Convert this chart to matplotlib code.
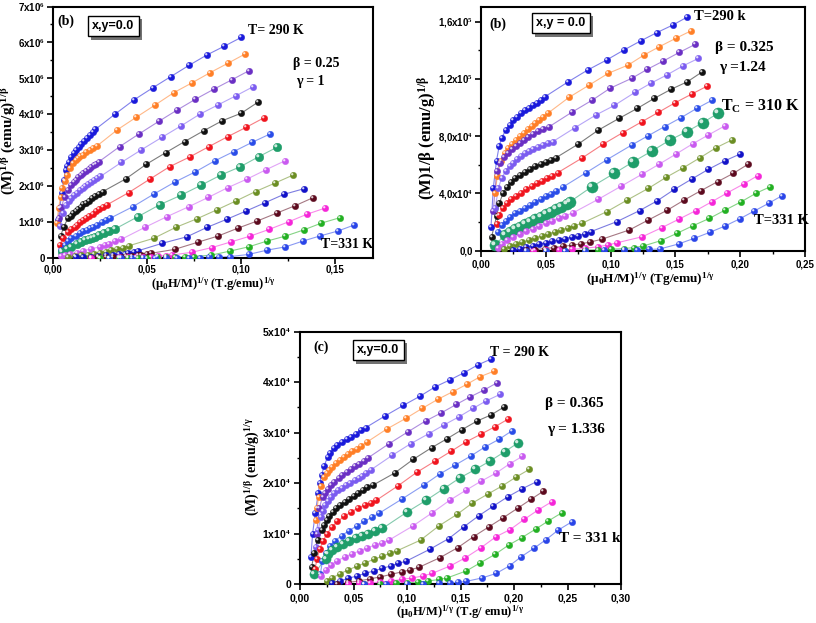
import matplotlib
matplotlib.use('Agg')
import matplotlib.pyplot as plt
import matplotlib.patheffects as pe
from matplotlib.markers import MarkerStyle
from matplotlib.transforms import Affine2D
from matplotlib.ticker import MultipleLocator, FuncFormatter

plt.rcParams['mathtext.fontset'] = 'custom'
plt.rcParams['mathtext.rm'] = 'Liberation Serif:bold'
plt.rcParams['mathtext.it'] = 'Liberation Serif:bold'
plt.rcParams['mathtext.bf'] = 'Liberation Serif:bold'
plt.rcParams['mathtext.default'] = 'rm'

# curve colours, T = 290 K (top) ... 331 K (bottom)
colors = ['#1a1adb', '#ff7f27', '#6a2fc4', '#7b5cf0', '#111111', '#f0141e', '#2a4de8',
          '#1f9e6a', '#c95af0', '#6b8e23', '#1212c8', '#5c0a1e', '#f526d8', '#22b022', '#2a45e8']

# ---- panel (b), beta=0.25, gamma=1 ; y in units of 1e6
p1_x = [
    [0.0027, 0.0036, 0.0046, 0.0057, 0.0067, 0.0076, 0.0085, 0.0097, 0.0110, 0.0124, 0.0138, 0.0151, 0.0165, 0.0180, 0.0195, 0.0210, 0.0225, 0.0331, 0.0430, 0.0531, 0.0626, 0.0722, 0.0817, 0.0908, 0.1000],
    [0.0020, 0.0030, 0.0040, 0.0050, 0.0062, 0.0075, 0.0089, 0.0106, 0.0120, 0.0133, 0.0146, 0.0159, 0.0177, 0.0195, 0.0213, 0.0234, 0.0342, 0.0443, 0.0543, 0.0641, 0.0740, 0.0835, 0.0929, 0.1021],
    [0.0030, 0.0045, 0.0062, 0.0080, 0.0098, 0.0110, 0.0122, 0.0135, 0.0148, 0.0162, 0.0176, 0.0190, 0.0204, 0.0218, 0.0231, 0.0244, 0.0354, 0.0456, 0.0561, 0.0660, 0.0757, 0.0855, 0.0950, 0.1040],
    [0.0035, 0.0053, 0.0071, 0.0085, 0.0098, 0.0112, 0.0127, 0.0142, 0.0157, 0.0172, 0.0188, 0.0204, 0.0220, 0.0236, 0.0252, 0.0363, 0.0469, 0.0579, 0.0681, 0.0779, 0.0876, 0.0970, 0.1064],
    [0.0040, 0.0057, 0.0080, 0.0093, 0.0106, 0.0120, 0.0134, 0.0148, 0.0162, 0.0177, 0.0192, 0.0208, 0.0224, 0.0244, 0.0265, 0.0386, 0.0496, 0.0598, 0.0699, 0.0800, 0.0899, 0.1000, 0.1090],
    [0.0035, 0.0053, 0.0080, 0.0098, 0.0115, 0.0130, 0.0145, 0.0161, 0.0177, 0.0193, 0.0210, 0.0227, 0.0245, 0.0266, 0.0287, 0.0402, 0.0513, 0.0619, 0.0729, 0.0828, 0.0929, 0.1027, 0.1120],
    [0.0040, 0.0062, 0.0080, 0.0098, 0.0120, 0.0142, 0.0161, 0.0180, 0.0196, 0.0212, 0.0235, 0.0260, 0.0282, 0.0305, 0.0425, 0.0536, 0.0646, 0.0757, 0.0858, 0.0959, 0.1058, 0.1152],
    [0.0050, 0.0075, 0.0098, 0.0125, 0.0151, 0.0171, 0.0190, 0.0206, 0.0221, 0.0245, 0.0270, 0.0298, 0.0327, 0.0451, 0.0566, 0.0681, 0.0788, 0.0892, 0.0995, 0.1093, 0.1189],
    [0.0040, 0.0065, 0.0089, 0.0125, 0.0159, 0.0200, 0.0248, 0.0275, 0.0300, 0.0330, 0.0363, 0.0487, 0.0605, 0.0722, 0.0826, 0.0929, 0.1032, 0.1129, 0.1230],
    [0.0080, 0.0115, 0.0150, 0.0185, 0.0220, 0.0250, 0.0280, 0.0310, 0.0340, 0.0370, 0.0403, 0.0536, 0.0651, 0.0764, 0.0870, 0.0973, 0.1076, 0.1177, 0.1276],
    [0.012, 0.016, 0.020, 0.024, 0.028, 0.032, 0.035, 0.038, 0.040, 0.043, 0.0451, 0.0581, 0.0711, 0.0817, 0.0924, 0.1027, 0.1127, 0.1226, 0.1334],
    [0.020, 0.024, 0.028, 0.032, 0.036, 0.039, 0.042, 0.045, 0.047, 0.050, 0.052, 0.0646, 0.0770, 0.0876, 0.0982, 0.1085, 0.1189, 0.1288, 0.1382],
    [0.020, 0.025, 0.030, 0.035, 0.040, 0.044, 0.048, 0.052, 0.056, 0.060, 0.063, 0.0738, 0.0844, 0.0947, 0.1048, 0.1150, 0.1253, 0.1350, 0.1446],
    [0.025, 0.030, 0.035, 0.040, 0.045, 0.050, 0.055, 0.060, 0.065, 0.070, 0.075, 0.0841, 0.0938, 0.1039, 0.1136, 0.1235, 0.1331, 0.1425, 0.1523],
    [0.030, 0.036, 0.042, 0.048, 0.054, 0.060, 0.066, 0.072, 0.078, 0.083, 0.088, 0.0942, 0.1040, 0.1138, 0.1235, 0.1327, 0.1416, 0.1513, 0.1601],
]
p1_y = [
    [1.06, 1.38, 1.80, 2.17, 2.45, 2.57, 2.68, 2.80, 2.92, 3.01, 3.10, 3.18, 3.27, 3.35, 3.43, 3.50, 3.58, 4.01, 4.40, 4.74, 5.05, 5.36, 5.65, 5.89, 6.14],
    [0.97, 1.40, 1.70, 1.95, 2.15, 2.31, 2.50, 2.64, 2.72, 2.78, 2.83, 2.87, 2.94, 3.01, 3.07, 3.12, 3.57, 3.92, 4.26, 4.60, 4.88, 5.16, 5.42, 5.68],
    [1.10, 1.43, 1.71, 1.89, 2.03, 2.11, 2.18, 2.25, 2.31, 2.37, 2.43, 2.48, 2.53, 2.58, 2.63, 2.68, 3.10, 3.45, 3.80, 4.12, 4.42, 4.70, 4.96, 5.21],
    [0.90, 1.25, 1.48, 1.58, 1.66, 1.74, 1.82, 1.89, 1.95, 2.01, 2.07, 2.12, 2.17, 2.22, 2.27, 2.66, 3.01, 3.36, 3.68, 4.00, 4.26, 4.51, 4.77],
    [0.60, 0.87, 1.11, 1.18, 1.25, 1.31, 1.37, 1.43, 1.49, 1.54, 1.60, 1.66, 1.72, 1.79, 1.85, 2.20, 2.61, 2.93, 3.24, 3.54, 3.82, 4.03, 4.34],
    [0.36, 0.55, 0.73, 0.81, 0.87, 0.93, 0.99, 1.05, 1.11, 1.17, 1.23, 1.30, 1.36, 1.42, 1.48, 1.82, 2.19, 2.54, 2.82, 3.10, 3.38, 3.64, 3.90],
    [0.22, 0.36, 0.46, 0.55, 0.62, 0.69, 0.74, 0.79, 0.83, 0.87, 0.93, 0.99, 1.05, 1.11, 1.43, 1.78, 2.11, 2.40, 2.70, 2.96, 3.22, 3.45],
    [0.18, 0.25, 0.31, 0.38, 0.45, 0.49, 0.53, 0.56, 0.59, 0.64, 0.70, 0.75, 0.80, 1.15, 1.48, 1.75, 2.03, 2.31, 2.54, 2.82, 3.08],
    [0.06, 0.08, 0.11, 0.15, 0.20, 0.25, 0.31, 0.36, 0.40, 0.46, 0.52, 0.85, 1.15, 1.43, 1.69, 1.96, 2.20, 2.45, 2.70],
    [0.03, 0.05, 0.07, 0.09, 0.12, 0.15, 0.18, 0.21, 0.25, 0.29, 0.34, 0.55, 0.85, 1.09, 1.34, 1.59, 1.85, 2.08, 2.31],
    [0.02, 0.03, 0.04, 0.05, 0.07, 0.08, 0.10, 0.12, 0.14, 0.17, 0.20, 0.41, 0.59, 0.85, 1.08, 1.31, 1.54, 1.77, 1.93],
    [0.01, 0.015, 0.02, 0.03, 0.04, 0.05, 0.06, 0.075, 0.09, 0.11, 0.13, 0.24, 0.44, 0.61, 0.83, 1.03, 1.25, 1.46, 1.68],
    [0.005, 0.007, 0.01, 0.015, 0.02, 0.025, 0.03, 0.04, 0.05, 0.065, 0.08, 0.16, 0.29, 0.45, 0.61, 0.80, 1.01, 1.22, 1.39],
    [0.0, 0.003, 0.005, 0.007, 0.01, 0.012, 0.015, 0.02, 0.025, 0.03, 0.04, 0.08, 0.19, 0.31, 0.47, 0.61, 0.78, 0.97, 1.12],
    [0.0, 0.0, 0.0, 0.002, 0.004, 0.006, 0.008, 0.01, 0.013, 0.016, 0.02, 0.04, 0.10, 0.22, 0.31, 0.47, 0.61, 0.75, 0.92],
]

# ---- panel (b), beta=0.325, gamma=1.24 ; y in units of 1e4
p2_x = [
    [0.0077, 0.0095, 0.0120, 0.0140, 0.0160, 0.0190, 0.0220, 0.0250, 0.0280, 0.0310, 0.0340, 0.0370, 0.0400, 0.0430, 0.0460, 0.0494, 0.0674, 0.0824, 0.0970, 0.1104, 0.1236, 0.1357, 0.1480, 0.1588],
    [0.0108, 0.0126, 0.0154, 0.0185, 0.0210, 0.0240, 0.0270, 0.0300, 0.0330, 0.0360, 0.0390, 0.0420, 0.0450, 0.0480, 0.0515, 0.0680, 0.0836, 0.0983, 0.1137, 0.1259, 0.1377, 0.1503, 0.1622],
    [0.0095, 0.0121, 0.0147, 0.018, 0.021, 0.024, 0.027, 0.030, 0.033, 0.036, 0.040, 0.044, 0.048, 0.0527, 0.0700, 0.0860, 0.0996, 0.1164, 0.1284, 0.1408, 0.1531, 0.1653],
    [0.011, 0.0135, 0.016, 0.019, 0.022, 0.025, 0.028, 0.031, 0.034, 0.037, 0.040, 0.044, 0.048, 0.052, 0.0554, 0.0726, 0.0886, 0.1029, 0.1189, 0.1310, 0.1434, 0.1557, 0.1678],
    [0.0082, 0.012, 0.014, 0.017, 0.020, 0.023, 0.026, 0.030, 0.034, 0.038, 0.042, 0.046, 0.050, 0.054, 0.0579, 0.0747, 0.0906, 0.1066, 0.1207, 0.1338, 0.1467, 0.1593, 0.1709],
    [0.012, 0.014, 0.017, 0.020, 0.023, 0.027, 0.031, 0.035, 0.039, 0.043, 0.047, 0.051, 0.055, 0.0592, 0.0777, 0.0940, 0.1094, 0.1241, 0.1369, 0.1498, 0.1627, 0.1747],
    [0.013, 0.016, 0.019, 0.022, 0.026, 0.030, 0.034, 0.038, 0.042, 0.046, 0.050, 0.054, 0.058, 0.0636, 0.0811, 0.0970, 0.1164, 0.1287, 0.1416, 0.1542, 0.1666, 0.1786],
    [0.0108, 0.0185, 0.022, 0.026, 0.030, 0.034, 0.038, 0.042, 0.046, 0.050, 0.054, 0.058, 0.062, 0.066, 0.0687, 0.0855, 0.1029, 0.1176, 0.1323, 0.1459, 0.1588, 0.1712, 0.1828],
    [0.013, 0.016, 0.020, 0.025, 0.030, 0.035, 0.040, 0.045, 0.050, 0.055, 0.060, 0.065, 0.0713, 0.0906, 0.1080, 0.1246, 0.1377, 0.1506, 0.1632, 0.1755, 0.1879],
    [0.018, 0.022, 0.027, 0.032, 0.037, 0.042, 0.047, 0.052, 0.057, 0.062, 0.067, 0.072, 0.0778, 0.0971, 0.1130, 0.1292, 0.1429, 0.1562, 0.1691, 0.1815, 0.1936],
    [0.025, 0.030, 0.035, 0.040, 0.045, 0.050, 0.055, 0.060, 0.065, 0.070, 0.075, 0.080, 0.0847, 0.1048, 0.1223, 0.1357, 0.1493, 0.1627, 0.1755, 0.1879, 0.2000],
    [0.035, 0.042, 0.049, 0.056, 0.063, 0.070, 0.077, 0.084, 0.0932, 0.1145, 0.1292, 0.1439, 0.1568, 0.1696, 0.1825, 0.1948, 0.2064],
    [0.040, 0.050, 0.060, 0.070, 0.080, 0.090, 0.098, 0.1048, 0.1246, 0.1395, 0.1524, 0.1658, 0.1781, 0.1902, 0.2026, 0.2134],
    [0.050, 0.065, 0.080, 0.090, 0.100, 0.110, 0.118, 0.1253, 0.1387, 0.1511, 0.1632, 0.1763, 0.1884, 0.2008, 0.2121, 0.2232],
    [0.035, 0.050, 0.065, 0.080, 0.095, 0.110, 0.120, 0.130, 0.138, 0.1524, 0.1647, 0.1768, 0.1884, 0.1995, 0.2108, 0.2219, 0.2322],
]
p2_y = [
    [1.63, 4.40, 6.30, 7.30, 7.90, 8.40, 8.80, 9.10, 9.35, 9.60, 9.80, 10.00, 10.20, 10.35, 10.55, 10.76, 11.81, 12.63, 13.33, 14.03, 14.68, 15.24, 15.77, 16.31],
    [4.0, 5.2, 6.3, 6.8, 7.15, 7.45, 7.75, 8.0, 8.25, 8.5, 8.7, 8.9, 9.1, 9.35, 9.6, 10.72, 11.58, 12.40, 12.98, 13.68, 14.26, 14.84, 15.37],
    [2.8, 5.6, 6.1, 6.55, 6.85, 7.1, 7.35, 7.55, 7.75, 7.95, 8.15, 8.35, 8.5, 8.67, 9.67, 10.53, 11.35, 12.05, 12.68, 13.26, 13.86, 14.42],
    [3.0, 4.4, 5.1, 5.55, 5.9, 6.15, 6.4, 6.6, 6.8, 6.95, 7.1, 7.25, 7.4, 7.5, 7.62, 8.60, 9.48, 10.15, 11.07, 11.70, 12.28, 12.91, 13.44],
    [0.98, 2.4, 3.3, 4.0, 4.45, 4.8, 5.05, 5.3, 5.5, 5.7, 5.9, 6.05, 6.2, 6.35, 6.5, 7.43, 8.43, 9.25, 9.95, 10.65, 11.28, 11.81, 12.51],
    [1.9, 2.5, 3.0, 3.35, 3.6, 3.85, 4.05, 4.3, 4.5, 4.7, 4.9, 5.05, 5.25, 5.45, 6.46, 7.43, 8.25, 9.01, 9.67, 10.34, 10.95, 11.51],
    [1.3, 1.8, 2.1, 2.35, 2.6, 2.8, 3.0, 3.2, 3.4, 3.6, 3.8, 3.95, 4.15, 4.47, 5.45, 6.35, 7.39, 8.02, 8.67, 9.29, 9.95, 10.53],
    [0.40, 1.10, 1.30, 1.50, 1.68, 1.85, 2.00, 2.20, 2.35, 2.55, 2.70, 2.90, 3.05, 3.25, 3.42, 4.47, 5.41, 6.22, 6.99, 7.74, 8.32, 8.95, 9.60],
    [0.2, 0.5, 0.75, 0.95, 1.15, 1.35, 1.55, 1.75, 1.95, 2.1, 2.3, 2.45, 2.66, 3.6, 4.5, 5.36, 6.06, 6.76, 7.46, 8.09, 8.71],
    [0.1, 0.3, 0.45, 0.6, 0.75, 0.9, 1.05, 1.2, 1.3, 1.45, 1.6, 1.75, 1.91, 2.73, 3.55, 4.36, 5.13, 5.80, 6.50, 7.20, 7.74],
    [0.05, 0.15, 0.25, 0.35, 0.45, 0.55, 0.65, 0.75, 0.85, 0.95, 1.05, 1.2, 1.33, 2.03, 2.80, 3.47, 4.29, 5.01, 5.69, 6.27, 6.76],
    [0.02, 0.08, 0.15, 0.22, 0.3, 0.38, 0.48, 0.6, 0.8, 1.45, 2.15, 2.84, 3.54, 4.19, 4.82, 5.41, 6.06],
    [0.0, 0.02, 0.05, 0.10, 0.17, 0.27, 0.40, 0.55, 0.98, 1.61, 2.19, 2.80, 3.42, 4.05, 4.66, 5.24],
    [0.0, 0.01, 0.03, 0.06, 0.10, 0.15, 0.22, 0.33, 0.70, 1.21, 1.73, 2.26, 2.84, 3.42, 4.01, 4.47],
    [0.0, 0.0, 0.0, 0.01, 0.02, 0.04, 0.06, 0.09, 0.12, 0.47, 0.87, 1.29, 1.73, 2.22, 2.77, 3.31, 3.84],
]

# ---- panel (c), beta=0.365, gamma=1.336 ; y in units of 1e4
p3_x = [
    [0.0102, 0.0118, 0.0143, 0.0170, 0.0185, 0.0202, 0.0226, 0.0258, 0.0285, 0.0314, 0.0350, 0.0397, 0.0440, 0.0481, 0.0525, 0.0568, 0.0615, 0.0794, 0.0966, 0.1120, 0.1266, 0.1406, 0.1536, 0.1660, 0.1788],
    [0.0149, 0.0160, 0.0174, 0.0195, 0.0226, 0.0250, 0.0273, 0.0300, 0.0335, 0.0370, 0.0413, 0.0450, 0.0490, 0.0530, 0.0568, 0.0624, 0.0810, 0.0987, 0.1142, 0.1288, 0.1427, 0.1561, 0.1685, 0.1816],
    [0.0155, 0.0180, 0.0211, 0.0235, 0.0258, 0.0290, 0.0320, 0.0360, 0.0397, 0.0435, 0.0475, 0.0515, 0.0553, 0.0595, 0.0636, 0.0832, 0.1012, 0.1173, 0.1319, 0.1462, 0.1592, 0.1716, 0.1844],
    [0.0149, 0.0170, 0.0195, 0.0215, 0.0236, 0.0260, 0.0289, 0.0320, 0.0357, 0.0390, 0.0428, 0.0470, 0.0512, 0.0550, 0.0584, 0.0620, 0.0661, 0.0862, 0.1034, 0.1204, 0.1344, 0.1483, 0.1617, 0.1741, 0.1872],
    [0.0109, 0.0133, 0.0164, 0.0202, 0.0225, 0.0248, 0.0275, 0.0304, 0.0340, 0.0376, 0.0418, 0.0459, 0.0500, 0.0543, 0.0585, 0.0630, 0.0683, 0.0885, 0.1058, 0.1229, 0.1375, 0.1515, 0.1655, 0.1785, 0.1909],
    [0.0140, 0.0160, 0.0185, 0.0215, 0.0250, 0.0295, 0.0350, 0.0415, 0.0480, 0.0545, 0.0610, 0.0660, 0.0714, 0.0919, 0.1089, 0.1266, 0.1412, 0.1555, 0.1692, 0.1825, 0.1946],
    [0.019, 0.021, 0.024, 0.028, 0.033, 0.039, 0.046, 0.053, 0.060, 0.067, 0.0738, 0.0950, 0.1157, 0.1306, 0.1453, 0.1599, 0.1732, 0.1862, 0.1977],
    [0.013, 0.024, 0.026, 0.030, 0.035, 0.040, 0.046, 0.052, 0.058, 0.064, 0.070, 0.0770, 0.0996, 0.1180, 0.1344, 0.1499, 0.1639, 0.1778, 0.1912, 0.2033],
    [0.020, 0.024, 0.029, 0.035, 0.042, 0.049, 0.056, 0.063, 0.070, 0.077, 0.0832, 0.1055, 0.1235, 0.1400, 0.1552, 0.1695, 0.1834, 0.1958, 0.2079],
    [0.025, 0.030, 0.037, 0.045, 0.053, 0.061, 0.069, 0.077, 0.084, 0.0909, 0.1127, 0.1297, 0.1468, 0.1608, 0.1753, 0.1887, 0.2020, 0.2142],
    [0.030, 0.037, 0.045, 0.053, 0.061, 0.069, 0.077, 0.085, 0.092, 0.099, 0.1215, 0.1390, 0.1530, 0.1669, 0.1804, 0.1943, 0.2079, 0.2213],
    [0.035, 0.045, 0.055, 0.065, 0.075, 0.085, 0.095, 0.103, 0.1111, 0.1306, 0.1474, 0.1623, 0.1763, 0.1897, 0.2033, 0.2160, 0.2275],
    [0.045, 0.055, 0.065, 0.075, 0.085, 0.095, 0.105, 0.115, 0.1235, 0.1406, 0.1546, 0.1692, 0.1834, 0.1965, 0.2095, 0.2228, 0.2353],
    [0.060, 0.075, 0.090, 0.100, 0.110, 0.120, 0.130, 0.1375, 0.1555, 0.1685, 0.1825, 0.1949, 0.2074, 0.2204, 0.2321, 0.2446],
    [0.060, 0.080, 0.100, 0.115, 0.130, 0.140, 0.148, 0.155, 0.1701, 0.1834, 0.1958, 0.2067, 0.2188, 0.2300, 0.2414, 0.2539],
]
p3_y = [
    [0.54, 1.00, 1.40, 1.80, 2.00, 2.16, 2.34, 2.52, 2.60, 2.69, 2.76, 2.82, 2.87, 2.92, 2.98, 3.05, 3.10, 3.33, 3.54, 3.72, 3.91, 4.05, 4.19, 4.34, 4.46],
    [1.27, 1.50, 1.73, 1.95, 2.12, 2.20, 2.26, 2.32, 2.39, 2.45, 2.52, 2.58, 2.64, 2.68, 2.73, 2.81, 3.07, 3.28, 3.48, 3.66, 3.81, 3.96, 4.11, 4.22],
    [1.00, 1.50, 1.73, 1.81, 1.89, 1.96, 2.03, 2.10, 2.16, 2.22, 2.27, 2.33, 2.38, 2.44, 2.50, 2.78, 3.02, 3.23, 3.39, 3.56, 3.71, 3.84, 3.99],
    [0.73, 1.07, 1.33, 1.45, 1.56, 1.65, 1.73, 1.80, 1.86, 1.91, 1.96, 2.01, 2.06, 2.10, 2.14, 2.20, 2.26, 2.55, 2.78, 2.98, 3.15, 3.31, 3.48, 3.63, 3.76],
    [0.34, 0.61, 0.88, 1.07, 1.17, 1.27, 1.35, 1.43, 1.50, 1.56, 1.63, 1.69, 1.74, 1.80, 1.86, 1.92, 1.96, 2.20, 2.47, 2.70, 2.88, 3.06, 3.23, 3.35, 3.51],
    [0.30, 0.50, 0.70, 0.85, 0.99, 1.12, 1.24, 1.34, 1.43, 1.51, 1.57, 1.61, 1.66, 1.95, 2.21, 2.44, 2.63, 2.82, 2.97, 3.12, 3.27],
    [0.20, 0.45, 0.62, 0.75, 0.86, 0.96, 1.06, 1.15, 1.24, 1.32, 1.40, 1.68, 1.96, 2.18, 2.36, 2.54, 2.72, 2.87, 3.03],
    [0.20, 0.50, 0.60, 0.68, 0.74, 0.80, 0.86, 0.92, 0.96, 1.00, 1.05, 1.10, 1.42, 1.66, 1.89, 2.11, 2.27, 2.44, 2.62, 2.79],
    [0.15, 0.28, 0.38, 0.46, 0.54, 0.60, 0.66, 0.72, 0.77, 0.82, 0.87, 1.15, 1.41, 1.66, 1.86, 2.04, 2.20, 2.38, 2.53],
    [0.05, 0.12, 0.20, 0.28, 0.35, 0.42, 0.49, 0.55, 0.61, 0.66, 0.87, 1.15, 1.38, 1.60, 1.78, 1.94, 2.12, 2.27],
    [0.02, 0.06, 0.11, 0.16, 0.21, 0.26, 0.31, 0.36, 0.41, 0.45, 0.69, 0.90, 1.13, 1.35, 1.54, 1.73, 1.89, 2.03],
    [0.0, 0.03, 0.06, 0.10, 0.14, 0.19, 0.24, 0.28, 0.33, 0.52, 0.72, 0.94, 1.13, 1.31, 1.50, 1.68, 1.84],
    [0.0, 0.01, 0.02, 0.04, 0.06, 0.09, 0.12, 0.16, 0.21, 0.36, 0.52, 0.72, 0.94, 1.08, 1.28, 1.47, 1.63],
    [0.0, 0.0, 0.01, 0.02, 0.04, 0.06, 0.09, 0.12, 0.26, 0.42, 0.59, 0.77, 0.92, 1.09, 1.25, 1.41],
    [0.0, 0.0, 0.0, 0.005, 0.01, 0.02, 0.03, 0.05, 0.12, 0.21, 0.36, 0.54, 0.71, 0.88, 1.07, 1.23],
]

W, H = 816, 623
fig = plt.figure(figsize=(W / 100, H / 100), dpi=100)

serif = 'Liberation Serif'
sans = 'Liberation Sans'

# small white highlight, shifted up-left, so the dots look like shaded balls
shine = MarkerStyle('o', transform=Affine2D().translate(-0.55, 0.55))


def px_axes(left, top, right, bottom):
    return fig.add_axes([left / W, 1 - bottom / H, (right - left) / W, (bottom - top) / H])


def ftext(X, Y, s, size=10, **kw):
    return fig.text(X / W, 1 - Y / H, s, ha='center', va='center', family=serif,
                    weight='bold', size=size, **kw)


def shadow_box(X, Y, s, size=9):
    t = fig.text(X / W, 1 - Y / H, s, ha='center', va='center', family=sans,
                 weight='bold', size=size,
                 bbox=dict(boxstyle='square,pad=0.35', fc='white', ec='black', lw=1.0))
    t.get_bbox_patch().set_path_effects([pe.withSimplePatchShadow(offset=(2.5, -2.5),
                                         shadow_rgbFace='0.45', alpha=1.0)])


def draw_curves(ax, xs, ys, big_ms, ms=4.6):
    for i, (x, y) in enumerate(zip(xs, ys)):
        c = colors[i]
        m = big_ms if i == 7 else ms
        ax.plot(x, y, '-', color=c, lw=0.8, alpha=0.55, zorder=2)
        ax.plot(x, y, 'o', ms=m, mfc=c, mec=c, mew=0.3, zorder=3)
        ax.plot(x, y, linestyle='none', marker=shine, ms=m * 0.36, mfc='white',
                mec='none', alpha=0.8, zorder=4)


def style(ax, xmax, xmajor, ymax, ymajor, yfmt, tsize, xpad, ypad):
    ax.set_xlim(0, xmax)
    ax.set_ylim(0, ymax)
    ax.xaxis.set_major_locator(MultipleLocator(xmajor))
    ax.xaxis.set_minor_locator(MultipleLocator(xmajor / 2))
    ax.yaxis.set_major_locator(MultipleLocator(ymajor))
    ax.yaxis.set_minor_locator(MultipleLocator(ymajor / 2))
    ax.xaxis.set_major_formatter(FuncFormatter(lambda v, p: f'{v:.2f}'.replace('.', ',')))
    ax.yaxis.set_major_formatter(FuncFormatter(yfmt))
    ax.tick_params(which='major', direction='out', length=4, width=1.2, labelsize=tsize)
    ax.tick_params(which='minor', direction='out', length=2.5, width=1.0)
    ax.tick_params(axis='x', which='major', pad=xpad)
    ax.tick_params(axis='y', which='major', pad=ypad)
    for lab in ax.get_xticklabels() + ax.get_yticklabels():
        lab.set_family(sans)
        lab.set_weight('bold')
    for sp in ax.spines.values():
        sp.set_linewidth(1.5)


def labels(ax, xl, xsize, xpos, yl, ysize, ypos):
    ax.set_xlabel(xl, family=serif, weight='bold', size=xsize)
    ax.xaxis.label.set_va('center')
    ax.xaxis.set_label_coords(*xpos)
    ax.set_ylabel(yl, family=serif, weight='bold', size=ysize)
    ax.yaxis.label.set_va('center')
    ax.yaxis.set_label_coords(*ypos)


# ---------------- panel 1
ax1 = px_axes(53, 6.5, 373, 258)
draw_curves(ax1, p1_x, p1_y, big_ms=6.2)
style(ax1, 0.17, 0.05, 7, 1, lambda v, p: '0' if v == 0 else f'{v:.0f}x10$^{{6}}$', 7, 1, 2)
labels(ax1, '(μ$_{0}$H/M)$^{1/γ}$ (T.g/emu)$^{1/γ}$', 9, (0.50, -0.106),
       '(M)$^{1/β}$ (emu/g)$^{1/β}$', 11, (-0.137, 0.465))

ftext(66, 21, '(b)', 10)
shadow_box(113, 26, 'x,y=0.0', 9)
ftext(276, 31, 'T= 290 K', 10)
ftext(316, 63, 'β = 0.25', 10)
ftext(296, 81, 'γ = 1', 10).set_ha('left')
ftext(347, 244, 'T=331 K', 10)


# ---------------- panel 2
def fmt2(v, p):
    names = {0: '0,0', 4: '4,0x10$^{4}$', 8: '8,0x10$^{4}$', 12: '1,2x10$^{5}$', 16: '1,6x10$^{5}$'}
    return names.get(int(round(v)), '')


ax2 = px_axes(481, 6.7, 805, 250.7)
draw_curves(ax2, p2_x, p2_y, big_ms=8.0)
style(ax2, 0.25, 0.05, 17.05, 4, fmt2, 7, 2, 2)
ax2.yaxis.set_minor_locator(MultipleLocator(2))
labels(ax2, '(μ$_{0}$H/M)$^{1/γ}$ (Tg/emu)$^{1/γ}$', 9.5, (0.522, -0.118),
       '(M)1/β (emu/g)$^{1/β}$', 12, (-0.165, 0.46))

ftext(498, 24, '(b)', 10)
shadow_box(561, 23, 'x,y = 0.0', 9)
ftext(720, 16, 'T=290 k', 10.5)
ftext(744, 48, 'β = 0.325', 11)
ftext(742, 67, 'γ =1.24', 11)
ftext(760, 106, 'T$_{C}$ = 310 K', 11.5)
ftext(781, 220, 'T=331 K', 10.5)

# ---------------- panel 3
ax3 = px_axes(300, 331.7, 621, 584)
draw_curves(ax3, p3_x, p3_y, big_ms=6.6)
style(ax3, 0.30, 0.05, 5, 1, lambda v, p: '0' if v == 0 else f'{v:.0f}x10$^{{4}}$', 7.5, 3, 2.5)
labels(ax3, '(μ$_{0}$H/M)$^{1/γ}$ (T.g/ emu)$^{1/γ}$', 9, (0.498, -0.11),
       '(M)$^{1/β}$ (emu/g)$^{1/γ}$', 10, (-0.146, 0.464))

ftext(321, 347, '(c)', 10)
shadow_box(378, 350, 'x,y=0.0', 9)
ftext(520, 352, 'T = 290 K', 10)
ftext(574, 404, 'β = 0.365', 11)
ftext(576, 429, 'γ = 1.336', 11)
ftext(590, 539, 'T = 331 k', 11)

fig.savefig('out.png', dpi=100)
